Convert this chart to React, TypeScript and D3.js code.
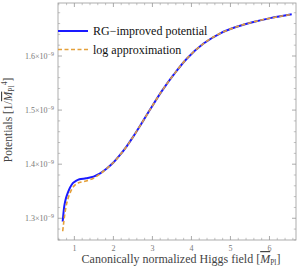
import React from "react";
import * as d3 from "d3";

// Higgs field values (in reduced Planck mass) and potentials (units of 1e-9)
const fieldRG = [0.7, 0.72, 0.74, 0.78, 0.83, 0.89, 0.96, 1.04, 1.13, 1.3, 1.49, 1.66, 1.83, 2.0, 2.17, 2.34, 2.5, 2.77, 2.94, 3.24, 3.54, 3.88, 4.31, 4.74, 5.16, 5.59, 6.02, 6.57];
const potentialRG = [1.294, 1.309, 1.322, 1.336, 1.347, 1.357, 1.365, 1.369, 1.372, 1.374, 1.377, 1.383, 1.392, 1.403, 1.417, 1.433, 1.45, 1.481, 1.501, 1.535, 1.565, 1.595, 1.623, 1.642, 1.654, 1.663, 1.67, 1.677];
const potentialLog = [1.276, 1.288, 1.3, 1.319, 1.335, 1.347, 1.357, 1.363, 1.366, 1.369, 1.374, 1.382, 1.392, 1.403, 1.417, 1.433, 1.45, 1.481, 1.501, 1.535, 1.565, 1.595, 1.623, 1.642, 1.654, 1.663, 1.67, 1.677];

const xTicks = [1, 2, 3, 4, 5, 6];
const yTicks = [1.3, 1.4, 1.5, 1.6];
const legendLabels = ["RG\u2212improved potential", "log approximation"];

const W = 300;
const H = 272;
const frame = { left: 58, right: 296, top: 3, bottom: 240 };
const gray = "#999";
const tickGray = "#888";

export default function App() {
  const x = d3.scaleLinear().domain([0.58, 6.68]).range([frame.left, frame.right]);
  const y = d3.scaleLinear().domain([1.2598, 1.698]).range([frame.bottom, frame.top]);

  const line = d3
    .line<[number, number]>()
    .x((d) => x(d[0]))
    .y((d) => y(d[1]))
    .curve(d3.curveCatmullRom.alpha(0.5));

  const rgPts = fieldRG.map((f, i) => [f, potentialRG[i]] as [number, number]);
  const logPts = fieldRG.map((f, i) => [f, potentialLog[i]] as [number, number]);

  const xMinor = d3.range(0.6, 6.7, 0.2).filter((v) => Math.abs(v - Math.round(v)) > 0.01);
  const yMinor = d3.range(1.26, 1.7, 0.02).filter((v) => Math.abs(v * 10 - Math.round(v * 10)) > 0.01);

  const fw = frame.right - frame.left;
  const fh = frame.bottom - frame.top;

  return (
    <svg
      width={W}
      height={H}
      style={{ position: "absolute", left: 0, top: 0, background: "#fff" }}
      fontFamily="Liberation Serif, Times New Roman, serif"
    >
      <defs>
        <clipPath id="plot">
          <rect x={frame.left} y={frame.top} width={fw} height={fh} />
        </clipPath>
      </defs>

      {/* ticks on all four sides */}
      {xTicks.map((t) => (
        <g key={"xt" + t} stroke={tickGray} strokeWidth={0.7}>
          <line x1={x(t)} x2={x(t)} y1={frame.bottom} y2={frame.bottom - 4} />
          <line x1={x(t)} x2={x(t)} y1={frame.top} y2={frame.top + 4} />
        </g>
      ))}
      {xMinor.map((t, i) => (
        <g key={"xm" + i} stroke={tickGray} strokeWidth={0.5}>
          <line x1={x(t)} x2={x(t)} y1={frame.bottom} y2={frame.bottom - 2.2} />
          <line x1={x(t)} x2={x(t)} y1={frame.top} y2={frame.top + 2.2} />
        </g>
      ))}
      {yTicks.map((t) => (
        <g key={"yt" + t} stroke={tickGray} strokeWidth={0.7}>
          <line x1={frame.left} x2={frame.left + 4} y1={y(t)} y2={y(t)} />
          <line x1={frame.right} x2={frame.right - 4} y1={y(t)} y2={y(t)} />
        </g>
      ))}
      {yMinor.map((t, i) => (
        <g key={"ym" + i} stroke={tickGray} strokeWidth={0.5}>
          <line x1={frame.left} x2={frame.left + 2.2} y1={y(t)} y2={y(t)} />
          <line x1={frame.right} x2={frame.right - 2.2} y1={y(t)} y2={y(t)} />
        </g>
      ))}

      <rect x={frame.left} y={frame.top} width={fw} height={fh} fill="none" stroke={gray} strokeWidth={0.8} />

      {/* tick labels */}
      {xTicks.map((t) => (
        <text key={"xl" + t} x={x(t)} y={frame.bottom + 11} fontSize={8} fill="#777" textAnchor="middle">
          {t}
        </text>
      ))}
      {yTicks.map((t) => (
        <text key={"yl" + t} x={frame.left - 4} y={y(t) + 3} fontSize={8} fill="#777" textAnchor="end">
          {t.toFixed(1)}
          {"\u00d710"}
          <tspan dy={-3.5} fontSize={6}>{"\u22129"}</tspan>
        </text>
      ))}

      {/* curves */}
      <g clipPath="url(#plot)">
        <path d={line(rgPts) ?? ""} fill="none" stroke="#1a1aff" strokeWidth={2} />
        <path d={line(logPts) ?? ""} fill="none" stroke="#e4a03a" strokeWidth={1.6} strokeDasharray="4 2.5" />
      </g>

      {/* legend */}
      <line x1={frame.left} x2={88} y1={31} y2={31} stroke="#1a1aff" strokeWidth={2} />
      <line x1={frame.left} x2={88} y1={49.5} y2={49.5} stroke="#e4a03a" strokeWidth={1.6} strokeDasharray="4 2.5" />
      <text x={93} y={35} fontSize={12} fill="#111">{legendLabels[0]}</text>
      <text x={93} y={53.5} fontSize={12} fill="#111">{legendLabels[1]}</text>

      {/* axis titles */}
      <text x={(frame.left + frame.right) / 2 + 4} y={263} fontSize={12} fill="#444" textAnchor="middle">
        Canonically normalized Higgs field [
        <tspan fontStyle="italic" textDecoration="overline">M</tspan>
        <tspan dy={2} fontSize={7.5}>Pl</tspan>
        <tspan dy={-2}>]</tspan>
      </text>
      <text
        transform={`translate(12, ${120}) rotate(-90)`}
        fontSize={11.5}
        fill="#444"
        textAnchor="middle"
      >
        Potentials [1/
        <tspan fontStyle="italic" textDecoration="overline">M</tspan>
        <tspan dy={2} fontSize={7.5}>Pl</tspan>
        <tspan dy={-7} fontSize={7.5}>4</tspan>
        <tspan dy={5}>]</tspan>
      </text>
    </svg>
  );
}
